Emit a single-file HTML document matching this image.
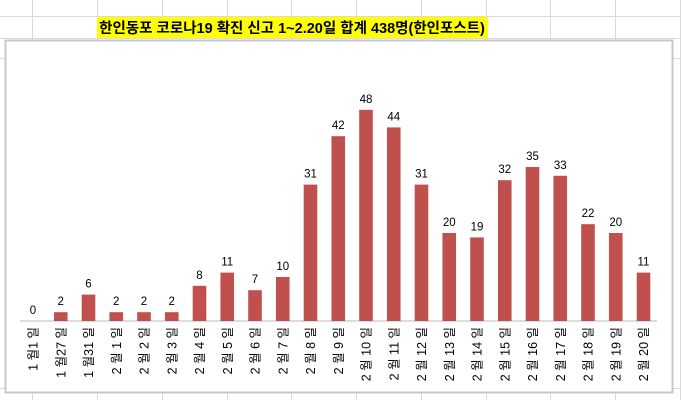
<!DOCTYPE html>
<html><head><meta charset="utf-8"><style>
html,body{margin:0;padding:0;background:#fff;}
body{width:681px;height:400px;overflow:hidden;position:relative;font-family:"Liberation Sans","Noto Sans CJK KR",sans-serif;}
</style></head><body>
<svg width="681" height="400" xmlns="http://www.w3.org/2000/svg" style="position:absolute;left:0;top:0">
<g stroke="#dadada" stroke-width="1">
<line x1="32.5" y1="0" x2="32.5" y2="400"/><line x1="97.5" y1="0" x2="97.5" y2="400"/><line x1="162.5" y1="0" x2="162.5" y2="400"/><line x1="227.5" y1="0" x2="227.5" y2="400"/><line x1="291.5" y1="0" x2="291.5" y2="400"/><line x1="356.5" y1="0" x2="356.5" y2="400"/><line x1="421.5" y1="0" x2="421.5" y2="400"/><line x1="486.5" y1="0" x2="486.5" y2="400"/><line x1="550.5" y1="0" x2="550.5" y2="400"/><line x1="615.5" y1="0" x2="615.5" y2="400"/><line x1="680.5" y1="0" x2="680.5" y2="400"/>
<line x1="0" y1="16.5" x2="681" y2="16.5"/><line x1="0" y1="38.5" x2="681" y2="38.5"/><line x1="0" y1="58.5" x2="681" y2="58.5"/><line x1="0" y1="388.5" x2="681" y2="388.5"/>
</g>
<rect x="97" y="17" width="391" height="21" fill="#ffff00"/>
<text x="292" y="33" text-anchor="middle" font-size="14.5" font-weight="bold" fill="#000">한인동포 코로나19 확진 신고 1~2.20일 합계 438명(한인포스트)</text>
<rect x="5.5" y="40.5" width="667" height="352" fill="#fff" stroke="#c8c8c8" stroke-width="2"/>
<line x1="20" y1="321" x2="657" y2="321" stroke="#d0d0d0" stroke-width="1.5"/>
<g id="bars"></g>
</svg>
<script>
(function(){
var v=[0,2,6,2,2,2,8,11,7,10,31,42,48,44,31,20,19,32,35,33,22,20,11];
var l=["1 월1 일","1 월27 일","1 월31 일"];for(var i=1;i<=20;i++)l.push("2 월 "+i+" 일");
var g=document.getElementById("bars"),h="";
for(var i=0;i<23;i++){var cx=33+i*27.75,hh=v[i]*4.4,ty=321-hh;
if(v[i]>0)h+='<rect x="'+(cx-6.8)+'" y="'+ty+'" width="13.6" height="'+hh+'" fill="#c0504d"/>';
h+='<text x="'+cx+'" y="'+(ty-7)+'" text-anchor="middle" font-size="11.5" fill="#000">'+v[i]+'</text>';
h+='<text transform="translate('+(cx+4.5)+',327) rotate(-90)" text-anchor="end" font-size="12.5" fill="#000">'+l[i]+'</text>';}
g.innerHTML=h;
})();
</script>
</body></html>
